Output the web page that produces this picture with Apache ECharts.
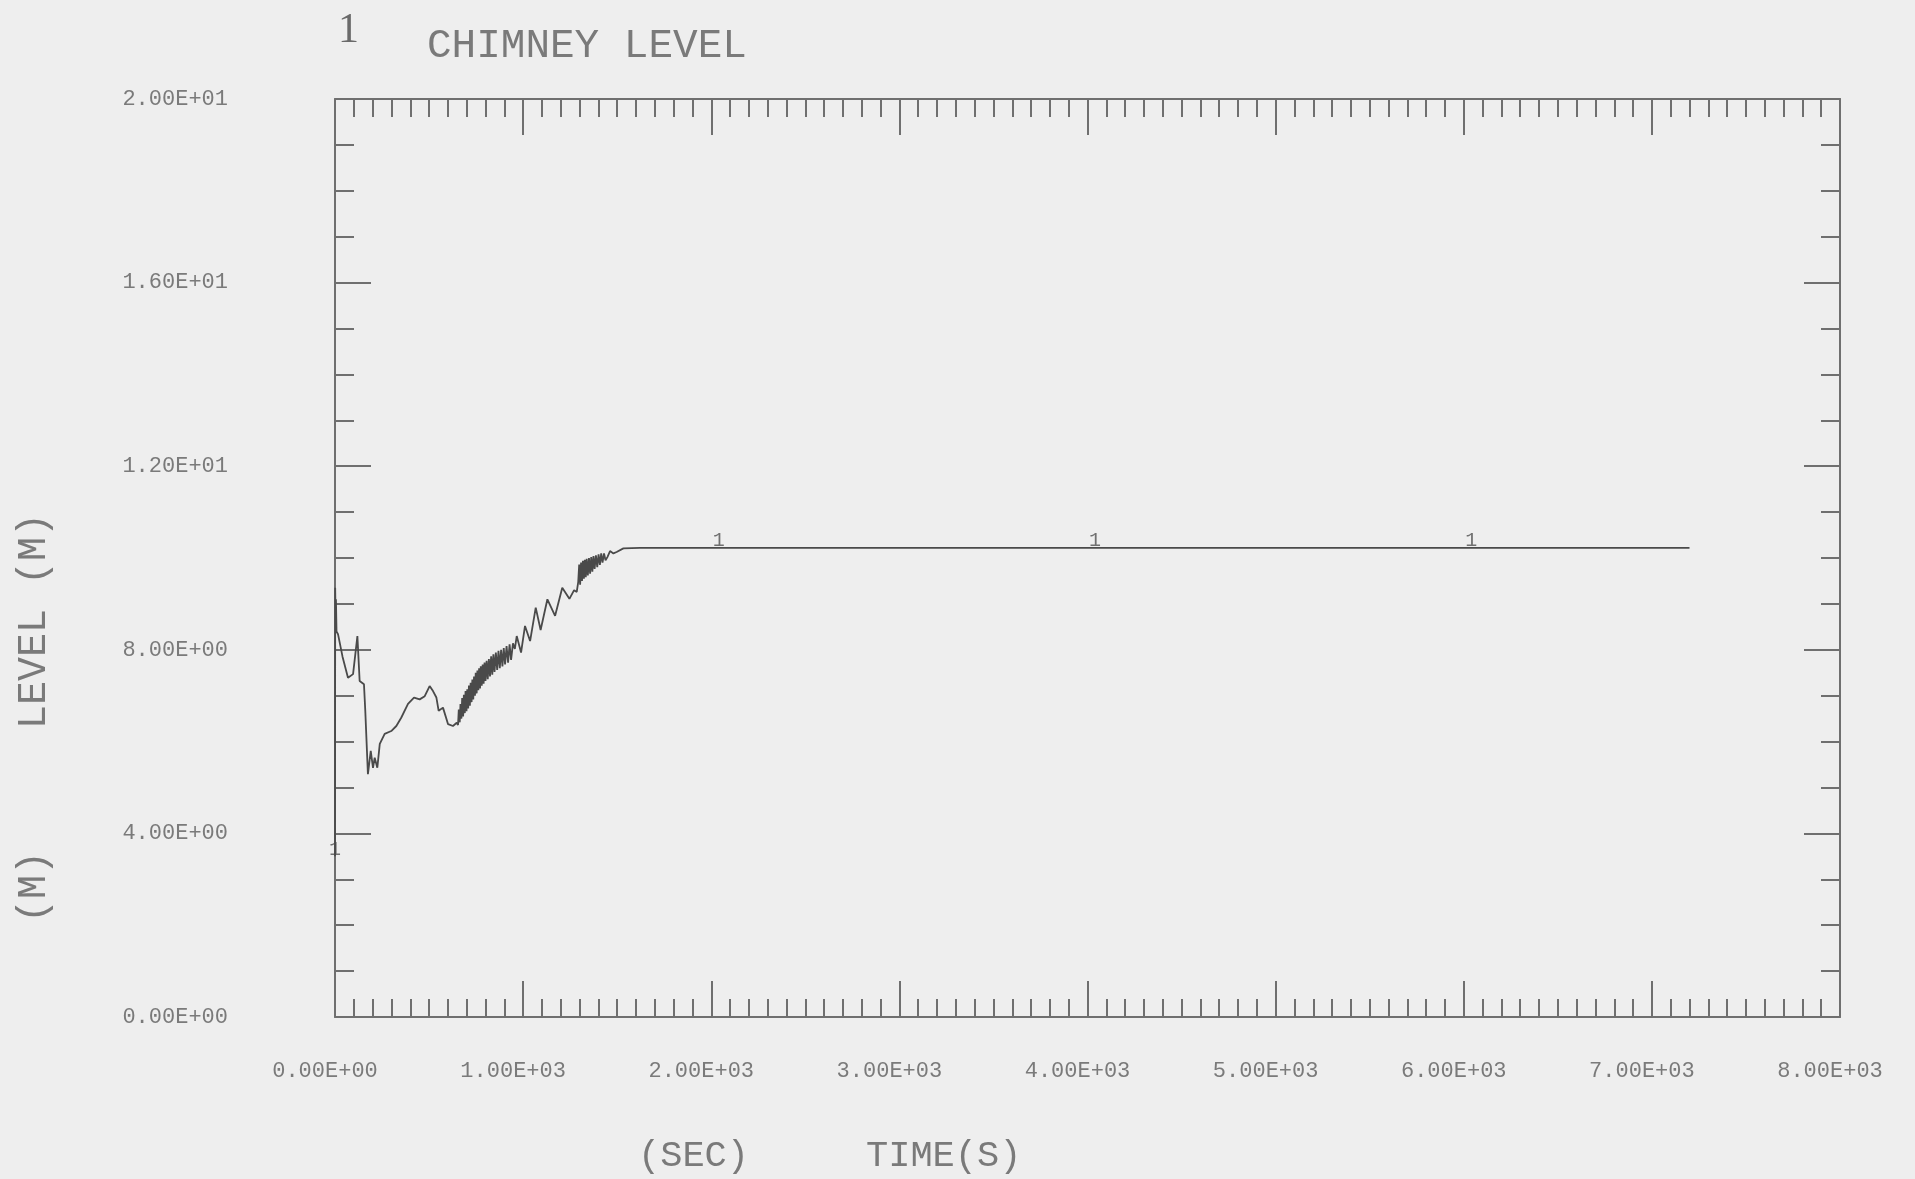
<!DOCTYPE html>
<html>
<head>
<meta charset="utf-8">
<title>CHIMNEY LEVEL</title>
<script src="https://cdn.jsdelivr.net/npm/echarts@6/dist/echarts.min.js"></script>
<style>
  html, body { margin: 0; padding: 0; background: #eeeeee; }
  #chart { width: 1915px; height: 1179px; }
</style>
</head>
<body>
<div id="chart"></div>
<script>
// Chimney collapsed level history (m) versus time (s)
const timeSec = [
  0, 1, 3, 5, 8, 16, 40, 69, 96, 119, 131, 154, 161, 175, 190, 202, 211, 225, 238,
  264, 299, 326, 352, 388, 420, 450, 477, 503, 521, 539, 551, 574, 601, 627, 647,
  654, 658, 663, 667, 672, 676, 681, 685, 690, 694, 699, 703, 708, 712, 717, 721,
  726, 730, 735, 739, 744, 748, 753, 757, 762, 766, 771, 775, 780, 785, 790, 795,
  800, 806, 812, 818, 824, 830, 836, 842, 848, 855, 862, 869, 876, 883, 890, 897,
  904, 912, 920, 928, 936, 946, 956,
  966, 989, 1010, 1037, 1067, 1093, 1129, 1170, 1208, 1246, 1271, 1285,
  1293, 1298, 1303, 1308, 1313, 1318, 1323, 1328, 1333, 1338, 1344, 1350, 1356,
  1362, 1368, 1374, 1380, 1387, 1394, 1401, 1408, 1415, 1422, 1430, 1438, 1448,
  1462, 1480, 1497, 1533, 1621, 7200
];
const levelM = [
  3.5, 9.35, 8.7, 9.1, 8.4, 8.34, 7.85, 7.39, 7.47, 8.30, 7.32, 7.25, 6.67, 5.29, 5.80, 5.43, 5.65, 5.43, 5.95,
  6.17, 6.23, 6.34, 6.52, 6.82, 6.96, 6.92, 6.99, 7.21, 7.10, 6.96, 6.67, 6.74, 6.38, 6.34, 6.41,
  6.36, 6.70, 6.42, 6.82, 6.50, 6.95, 6.55, 7.02, 6.62, 7.10, 6.66, 7.14, 6.72, 7.22, 6.78, 7.28,
  6.86, 7.35, 6.92, 7.42, 7.00, 7.50, 7.05, 7.55, 7.12, 7.60, 7.16, 7.64, 7.22, 7.68, 7.26, 7.72,
  7.32, 7.76, 7.36, 7.80, 7.42, 7.86, 7.46, 7.90, 7.52, 7.94, 7.56, 7.98, 7.60, 8.00, 7.64, 8.04,
  7.68, 8.08, 7.72, 8.12, 7.78, 8.14, 8.02,
  8.30, 7.94, 8.52, 8.19, 8.92, 8.43, 9.10, 8.74, 9.35, 9.11, 9.30, 9.26,
  9.48, 9.86, 9.42, 9.90, 9.50, 9.94, 9.55, 9.96, 9.58, 9.98, 9.62, 10.00, 9.66,
  10.02, 9.70, 10.04, 9.76, 10.06, 9.80, 10.08, 9.85, 10.10, 9.90, 10.10, 9.95, 10.02,
  10.15, 10.10, 10.13, 10.21, 10.22, 10.22
];

// Curve identifier symbols ("1") placed along the trace
const markerTime = [0, 2040, 4040, 6040];
const markerLevel = [3.5, 10.22, 10.22, 10.22];

// Tick labels
const xTickLabels = ['0.00E+00', '1.00E+03', '2.00E+03', '3.00E+03', '4.00E+03',
                     '5.00E+03', '6.00E+03', '7.00E+03', '8.00E+03'];
const yTickLabels = ['0.00E+00', '4.00E+00', '8.00E+00', '1.20E+01', '1.60E+01', '2.00E+01'];

const xStep = 1000, yStep = 4;
const ink = '#6f6f6f';
const textInk = '#7a7a7a';
const mono = '"Liberation Mono", "DejaVu Sans Mono", monospace';

const curve = timeSec.map((t, i) => [t, levelM[i]]);
const markers = markerTime.map((t, i) => [t, markerLevel[i]]);

const axisLineStyle = { show: true, onZero: false, lineStyle: { color: ink, width: 2 } };
const majorTick = { show: true, inside: true, length: 36, lineStyle: { color: ink, width: 2 } };
const xMinor = { show: true, splitNumber: 10, length: 18, lineStyle: { color: ink, width: 2 } };
const yMinor = { show: true, splitNumber: 4, length: 19, lineStyle: { color: ink, width: 2 } };

function xAxisDef(position, showLabels) {
  return {
    type: 'value', position: position, min: 0, max: 8000, interval: xStep,
    axisLine: axisLineStyle, axisTick: majorTick, minorTick: xMinor,
    splitLine: { show: false }, minorSplitLine: { show: false },
    axisLabel: {
      show: showLabels, margin: 43, color: textInk, fontFamily: mono, fontSize: 22,
      padding: [0, 20, 0, 0],
      formatter: v => xTickLabels[Math.round(v / xStep)]
    }
  };
}
function yAxisDef(position, showLabels) {
  return {
    type: 'value', position: position, min: 0, max: 20, interval: yStep,
    axisLine: axisLineStyle, axisTick: majorTick, minorTick: yMinor,
    splitLine: { show: false }, minorSplitLine: { show: false },
    axisLabel: {
      show: showLabels, margin: 107, color: textInk, fontFamily: mono, fontSize: 22,
      formatter: v => yTickLabels[Math.round(v / yStep)]
    }
  };
}

const chart = echarts.init(document.getElementById('chart'), null, { renderer: 'canvas' });
chart.setOption({
  backgroundColor: '#eeeeee',
  animation: false,
  grid: { left: 335, right: 75, top: 99, bottom: 162, containLabel: false },
  xAxis: [xAxisDef('bottom', true), xAxisDef('top', false)],
  yAxis: [yAxisDef('left', true), yAxisDef('right', false)],
  series: [
    {
      type: 'line', xAxisIndex: 0, yAxisIndex: 0, data: curve,
      showSymbol: false, symbol: 'none', smooth: false,
      lineStyle: { color: '#4a4a4a', width: 1.8 }
    },
    {
      type: 'scatter', xAxisIndex: 0, yAxisIndex: 0, data: markers,
      symbol: 'circle', symbolSize: 0.1,
      itemStyle: { color: 'rgba(0,0,0,0)' },
      label: {
        show: true, position: 'top', distance: -3, formatter: '1',
        color: '#505050', fontFamily: mono, fontSize: 20
      }
    }
  ],
  graphic: [
    { type: 'text', left: 338, top: 10,
      style: { text: '1', font: '42px "Liberation Serif", serif', fill: '#6a6a6a' } },
    { type: 'text', left: 427, top: 26,
      style: { text: 'CHIMNEY LEVEL', font: '41px ' + mono, fill: textInk } },
    { type: 'text', x: 34, y: 621, rotation: Math.PI / 2,
      style: { text: 'LEVEL (M)', font: '40px ' + mono, fill: textInk,
               align: 'center', verticalAlign: 'middle' } },
    { type: 'text', x: 34, y: 887, rotation: Math.PI / 2,
      style: { text: '(M)', font: '40px ' + mono, fill: textInk,
               align: 'center', verticalAlign: 'middle' } },
    { type: 'text', x: 638, y: 1156,
      style: { text: '(SEC)', font: '37px ' + mono, fill: textInk,
               align: 'left', verticalAlign: 'middle' } },
    { type: 'text', x: 866, y: 1156,
      style: { text: 'TIME(S)', font: '37px ' + mono, fill: textInk,
               align: 'left', verticalAlign: 'middle' } }
  ]
});
</script>
</body>
</html>
